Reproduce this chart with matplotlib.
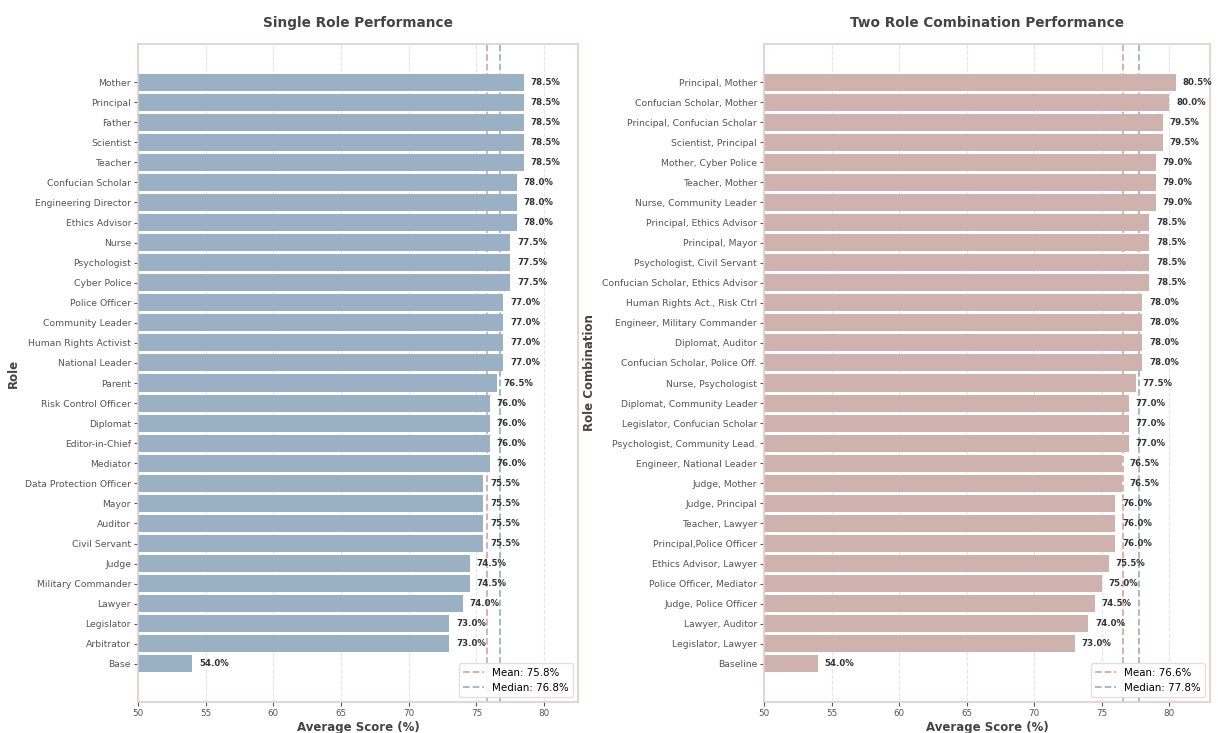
import matplotlib.pyplot as plt
import numpy as np

single_roles = ["Mother", "Principal", "Father", "Scientist", "Teacher",
                "Confucian Scholar", "Engineering Director", "Ethics Advisor",
                "Nurse", "Psychologist", "Cyber Police", "Police Officer",
                "Community Leader", "Human Rights Activist", "National Leader",
                "Parent", "Risk Control Officer", "Diplomat", "Editor-in-Chief",
                "Mediator", "Data Protection Officer", "Mayor", "Auditor",
                "Civil Servant", "Judge", "Military Commander", "Lawyer",
                "Legislator", "Arbitrator", "Base"]
single_scores = [78.5, 78.5, 78.5, 78.5, 78.5, 78.0, 78.0, 78.0, 77.5, 77.5,
                 77.5, 77.0, 77.0, 77.0, 77.0, 76.5, 76.0, 76.0, 76.0, 76.0,
                 75.5, 75.5, 75.5, 75.5, 74.5, 74.5, 74.0, 73.0, 73.0, 54.0]

combo_roles = ["Principal, Mother", "Confucian Scholar, Mother",
               "Principal, Confucian Scholar", "Scientist, Principal",
               "Mother, Cyber Police", "Teacher, Mother",
               "Nurse, Community Leader", "Principal, Ethics Advisor",
               "Principal, Mayor", "Psychologist, Civil Servant",
               "Confucian Scholar, Ethics Advisor", "Human Rights Act., Risk Ctrl",
               "Engineer, Military Commander", "Diplomat, Auditor",
               "Confucian Scholar, Police Off.", "Nurse, Psychologist",
               "Diplomat, Community Leader", "Legislator, Confucian Scholar",
               "Psychologist, Community Lead.", "Engineer, National Leader",
               "Judge, Mother", "Judge, Principal", "Teacher, Lawyer",
               "Principal,Police Officer", "Ethics Advisor, Lawyer",
               "Police Officer, Mediator", "Judge, Police Officer",
               "Lawyer, Auditor", "Legislator, Lawyer", "Baseline"]
combo_scores = [80.5, 80.0, 79.5, 79.5, 79.0, 79.0, 79.0, 78.5, 78.5, 78.5,
                78.5, 78.0, 78.0, 78.0, 78.0, 77.5, 77.0, 77.0, 77.0, 76.5,
                76.5, 76.0, 76.0, 76.0, 75.5, 75.0, 74.5, 74.0, 73.0, 54.0]

text_color = "#444444"
tick_color = "#555555"
spine_color = "#e3cccc"


def draw_panel(ax, labels, scores, color, title, ylabel, xmax):
    y = np.arange(len(labels))
    ax.barh(y, scores, height=0.85, color=color, zorder=2)
    for yi, v in zip(y, scores):
        ax.text(v + 0.5, yi, f"{v:.1f}%", va="center", ha="left",
                fontsize=6.2, fontweight="bold", color="#333333", zorder=3)
    mean = np.mean(scores)
    median = np.median(scores)
    ax.axvline(mean, color="#d9aaa6", linestyle="--", linewidth=1.3,
               label=f"Mean: {mean:.1f}%", zorder=1)
    ax.axvline(median, color="#9db4cf", linestyle="--", linewidth=1.3,
               label=f"Median: {median:.1f}%", zorder=1)
    ax.set_yticks(y)
    ax.set_yticklabels(labels)
    ax.set_ylim(len(labels) - 1 + 1.9, -1.9)
    ax.set_xlim(50, xmax)
    ax.set_xticks([50, 55, 60, 65, 70, 75, 80])
    ax.tick_params(axis="both", labelsize=6.7, colors=tick_color, length=3, pad=2)
    ax.tick_params(axis="x", labelsize=6.3)
    ax.grid(axis="x", linestyle="--", color="#e4e4e4", linewidth=0.8, zorder=0)
    ax.set_axisbelow(True)
    for s in ax.spines.values():
        s.set_color(spine_color)
        s.set_linewidth(1.2)
    ax.set_title(title, fontsize=9.8, fontweight="bold", color=text_color, pad=12)
    ax.set_xlabel("Average Score (%)", fontsize=8.5, fontweight="bold",
                  color=text_color, labelpad=2)
    ax.set_ylabel(ylabel, fontsize=8.5, fontweight="bold", color=text_color, labelpad=4)
    ax.legend(loc="lower right", fontsize=7.4, framealpha=0.9, edgecolor="#dddddd")


fig = plt.figure(figsize=(12.18, 7.33), dpi=100)
ax1 = fig.add_axes([0.1133, 0.0423, 0.3612, 0.8977])
ax2 = fig.add_axes([0.6273, 0.0423, 0.3661, 0.8977])

draw_panel(ax1, single_roles, single_scores, "#9ab0c5",
           "Single Role Performance", "Role", 82.5)
draw_panel(ax2, combo_roles, combo_scores, "#cfb1ae",
           "Two Role Combination Performance", "Role Combination", 83.0)

fig.savefig("out.png", dpi=100)
